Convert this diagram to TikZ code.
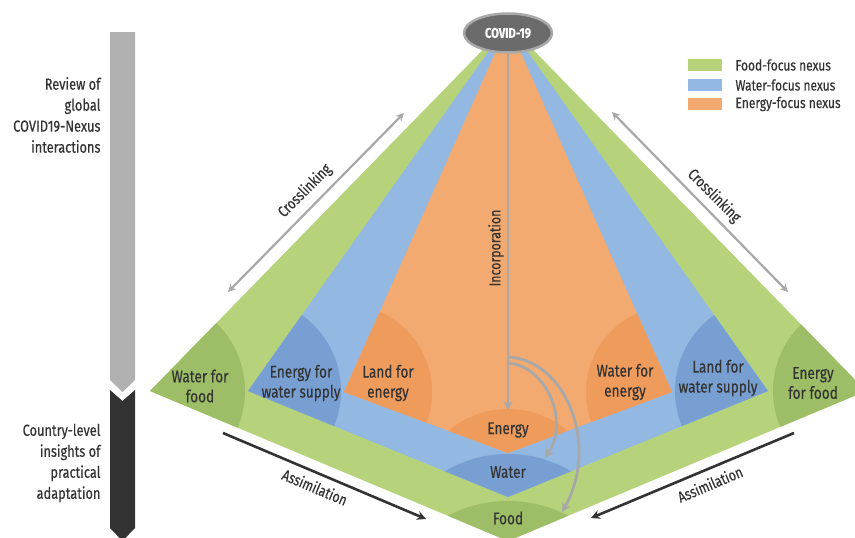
\documentclass[tikz,border=0pt]{standalone}
\usepackage{fontspec}
\setmainfont{Fira Sans}[FakeStretch=0.8,FakeBold=0.35]
\usetikzlibrary{arrows.meta,shapes.geometric}

\definecolor{foodlight}{HTML}{B6D37C}
\definecolor{fooddark}{HTML}{9DBD66}
\definecolor{waterlight}{HTML}{93B8E2}
\definecolor{waterdark}{HTML}{779FD1}
\definecolor{energylight}{HTML}{F2AA70}
\definecolor{energydark}{HTML}{EF9B5C}
\definecolor{txtgray}{HTML}{333333}
\definecolor{arrgray}{HTML}{A8A8A8}
\definecolor{covgray}{HTML}{6B6B6B}
\definecolor{barlight}{HTML}{B1B1B1}

\begin{document}
\begin{tikzpicture}[x=1pt,y=-1pt,
    lbl/.style={text=txtgray, align=center, font=\fontsize{17}{20}\selectfont},
    sidetxt/.style={text=txtgray, align=right, anchor=east, font=\fontsize{16}{21}\selectfont},
    legtxt/.style={text=txtgray, anchor=west, font=\fontsize{15}{18}\selectfont},
    arrtxt/.style={text=txtgray, font=\fontsize{15.5}{18}\selectfont},
    grayarrow/.style={draw=arrgray, line width=2.8pt, -{Stealth[length=9pt,width=9pt]}},
    crossarrow/.style={draw=arrgray, line width=2.2pt, {Stealth[length=8pt,width=8pt]}-{Stealth[length=8pt,width=8pt]}},
    darkarrow/.style={draw=txtgray, line width=2.6pt, -{Stealth[length=9pt,width=9pt]}}]
    \clip (0,0) rectangle (855,538);

    % corners of the three nexus layers
    \coordinate (apex) at (508,24);
    \coordinate (gL) at (150,391); \coordinate (gB) at (508,541); \coordinate (gR) at (866,391);
    \coordinate (wL) at (248,391); \coordinate (wB) at (508,497); \coordinate (wR) at (768,391);
    \coordinate (eL) at (344,392); \coordinate (eB) at (508,453); \coordinate (eR) at (672,392);

    % food layer
    \fill[foodlight] (apex) -- (gL) -- (gB) -- (gR) -- cycle;
    \begin{scope}
        \clip (apex) -- (gL) -- (gB) -- (gR) -- cycle;
        \fill[fooddark] (gL) circle (95);
        \fill[fooddark] (gR) circle (93);
        \fill[fooddark] (508,632) circle (131);
    \end{scope}

    % water layer
    \fill[waterlight] (apex) -- (wL) -- (wB) -- (wR) -- cycle;
    \begin{scope}
        \clip (apex) -- (wL) -- (wB) -- (wR) -- cycle;
        \fill[waterdark] (wL) circle (93);
        \fill[waterdark] (wR) circle (93);
        \fill[waterdark] (508,578) circle (124);
    \end{scope}

    % energy layer
    \fill[energylight] (apex) -- (eL) -- (eB) -- (eR) -- cycle;
    \begin{scope}
        \clip (apex) -- (eL) -- (eB) -- (eR) -- cycle;
        \fill[energydark] (eL) circle (88);
        \fill[energydark] (eR) circle (86);
        \fill[energydark] (508,501) circle (92);
    \end{scope}

    % sidebar
    \fill[barlight] (110,32) -- (135,32) -- (135,380) -- (122.5,392) -- (110,380) -- cycle;
    \fill[txtgray] (110,390) -- (122.5,401) -- (135,390) -- (135,528) -- (122.5,541) -- (110,528) -- cycle;
    \node[sidetxt] (review) at (104,115) {Review of\\global\\COVID19-Nexus\\interactions};
    \node[sidetxt] (country) at (104,463) {Country-level\\insights of\\practical\\adaptation};

    % labels
    \node[lbl] (wff) at (200,386) {Water for\\food};
    \node[lbl] (efws) at (301,383) {Energy for\\water supply};
    \node[lbl] (lfe) at (388,383) {Land for\\energy};
    \node[lbl] (wfe) at (625,382) {Water for\\energy};
    \node[lbl] (lfws) at (718,378) {Land for\\water supply};
    \node[lbl] (eff) at (813,383) {Energy\\for food};
    \node[lbl] (energy) at (508,430) {Energy};
    \node[lbl] (water) at (508,472) {Water};
    \node[lbl] (food) at (508,518) {Food};

    % covid node and incorporation
    \node[ellipse, fill=covgray, draw=arrgray, line width=2.5pt, minimum width=88pt, minimum height=39pt,
          text=white, font=\fontsize{14}{16}\selectfont\bfseries] (covid) at (508,33) {COVID-19};
    \coordinate (incEnd) at (508,410);
    \coordinate (brA) at (508,357);
    \coordinate (brB) at (508,363);
    \coordinate (foodEnd) at (562,512);
    \coordinate (waterEnd) at (545,458);
    \draw[grayarrow] (covid.south) -- (incEnd);
    \draw[grayarrow] (brA) .. controls (566,360) and (600,445) .. (foodEnd);
    \draw[grayarrow] (brB) .. controls (546,366) and (570,420) .. (waterEnd);
    \node[arrtxt, rotate=90] (incorp) at (496,248) {Incorporation};

    % crosslinking
    \coordinate (clA) at (228,292); \coordinate (clB) at (404,113);
    \coordinate (crA) at (612,112); \coordinate (crB) at (788,292);
    \draw[crossarrow] (clA) -- (clB);
    \draw[crossarrow] (crA) -- (crB);
    \node[arrtxt, rotate=45] (crossL) at (305,191) {Crosslinking};
    \node[arrtxt, rotate=-45] (crossR) at (714,196) {Crosslinking};

    % assimilation
    \coordinate (alA) at (223,433); \coordinate (alB) at (426,519);
    \coordinate (arA) at (794,433); \coordinate (arB) at (591,518);
    \draw[darkarrow] (alA) -- (alB);
    \draw[darkarrow] (arA) -- (arB);
    \node[arrtxt, rotate=-23] (assimL) at (315,487) {Assimilation};
    \node[arrtxt, rotate=23] (assimR) at (710,484) {Assimilation};

    % legend
    \fill[foodlight] (688,59) rectangle (722,71);
    \fill[waterlight] (688,79) rectangle (722,91);
    \fill[energylight] (688,98) rectangle (722,110);
    \node[legtxt] (legfood) at (732,65) {Food-focus nexus};
    \node[legtxt] (legwater) at (732,85) {Water-focus nexus};
    \node[legtxt] (legenergy) at (732,104) {Energy-focus nexus};
\end{tikzpicture}
\end{document}
